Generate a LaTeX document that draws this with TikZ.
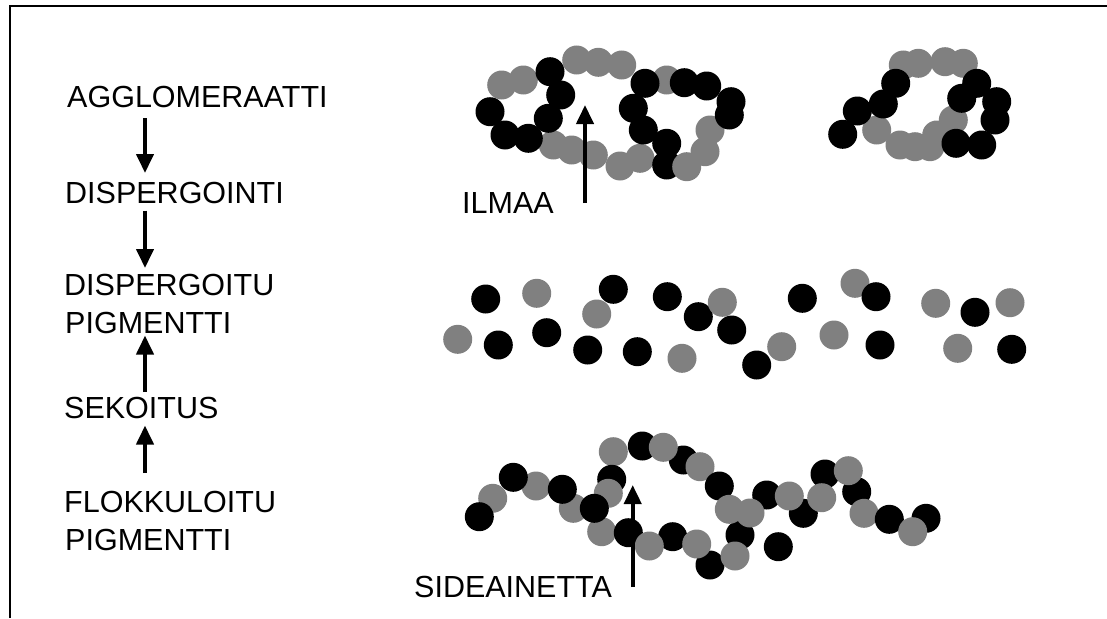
\documentclass[tikz,border=0pt]{standalone}
\usepackage{fontspec}
\setmainfont{Liberation Sans}
\usetikzlibrary{arrows.meta}
\definecolor{pgray}{RGB}{128,128,128}
% one pigment particle: black or grey
\newcommand\dotk[2]{\fill[black] (#1,#2) circle[radius=14.5pt];}
\newcommand\dotg[2]{\fill[pgray] (#1,#2) circle[radius=14.5pt];}
\begin{document}
\begin{tikzpicture}[x=1pt,y=-1pt,
  lbl/.style={anchor=base west, inner sep=0pt, font=\fontsize{30.5}{36}\selectfont},
  flow/.style={line width=4pt, -{Triangle[width=17pt,length=19pt]}}]
\useasboundingbox (0,0) rectangle (1107,618);

% frame
\draw[line width=2.5pt] (10,618) -- (10,6) -- (1107,6);

% process steps
\node[lbl] (agg)  at (67,107) {AGGLOMERAATTI};
\node[lbl] (disp) at (65,203) {DISPERGOINTI};
\node[lbl] (dpa)  at (64,295) {DISPERGOITU};
\node[lbl] (dpb)  at (65,333) {PIGMENTTI};
\node[lbl] (sek)  at (64,418) {SEKOITUS};
\node[lbl] (fla)  at (64,512) {FLOKKULOITU};
\node[lbl] (flb)  at (65,550) {PIGMENTTI};
\coordinate (col) at (145,0);

\draw[flow, shorten <=11pt, shorten >=8.5pt] (agg.south -| col) -- (disp.north -| col);
\draw[flow, shorten <=7pt, shorten >=5.5pt] (disp.south -| col) -- (dpa.north -| col);
\draw[flow, shorten <=4.5pt, shorten >=2pt] (sek.north -| col) -- (dpb.south -| col);
\draw[flow, shorten <=17.5pt, shorten >=7pt] (fla.north -| col) -- (sek.south -| col);

% agglomerate, left
\dotg{501.7}{85} \dotg{523.3}{80} \dotg{576.7}{60} \dotg{598.3}{62.3} \dotg{621.7}{65}
\dotg{666.7}{80}
\dotg{553.3}{145} \dotg{571.7}{150} \dotg{593.3}{155} \dotg{620}{166} \dotg{640}{158.3}
\dotg{705}{151.7} \dotg{710}{130}
\dotk{550}{71.7} \dotk{560.7}{95} \dotk{548.3}{118.3} \dotk{490}{111.7} \dotk{505}{135} \dotk{528.3}{138.3}
\dotk{645}{83.3} \dotk{633.3}{108.3} \dotk{643.3}{130} \dotk{666.7}{143.3} \dotk{666.7}{165}
\dotk{684.3}{82.7} \dotk{706.7}{86} \dotk{731}{101.7} \dotk{729.3}{115}
\dotg{686.7}{166.7}

% agglomerate, right
\dotg{903.3}{65} \dotg{918.3}{63.3} \dotg{945}{61.7} \dotg{963.3}{63.3}
\dotg{876.7}{130} \dotg{900}{145} \dotg{915}{146.7} \dotg{930}{146.7} \dotg{936.7}{135} \dotg{953.3}{120}
\dotk{842.7}{134.3} \dotk{857.3}{111} \dotk{883.3}{104} \dotk{895.7}{83.3}
\dotk{961.7}{98.3} \dotk{976.7}{83.3} \dotk{996.7}{101.7} \dotk{995}{120}
\dotk{956}{143.3} \dotk{981.7}{145}

% dispersed pigment
\dotk{485.7}{299} \dotg{536.7}{293.3} \dotg{596.7}{314} \dotk{613.3}{289.3} \dotk{667.3}{296.7}
\dotk{698.3}{316.7} \dotg{722.3}{302.3} \dotk{731.7}{330}
\dotg{457.7}{339.3} \dotk{498.3}{345} \dotk{546.7}{332.7} \dotk{587.7}{350} \dotk{637.3}{351.7}
\dotg{682}{358.3} \dotg{781.7}{346.7} \dotk{756.7}{365}
\dotk{802.3}{298.3} \dotg{834}{335} \dotg{855}{283.3} \dotk{876}{296.7} \dotk{880}{345}
\dotg{935.7}{303.3} \dotk{975}{312.3} \dotg{1010}{302.7} \dotg{957.7}{348.3} \dotk{1011.7}{349.3}

% flocculated pigment
\dotg{492.7}{498.3} \dotk{479.3}{516.7}
\dotg{536}{486} \dotk{513.3}{477.3}
\dotg{573.3}{508.3} \dotk{562.3}{489.3}
\dotg{613.3}{451.7} \dotk{611.7}{479.3} \dotg{608.3}{493.3}
\dotg{601.7}{531.7} \dotk{594.3}{508.3} \dotk{628.3}{532.7}
\dotk{642.3}{446} \dotk{683.3}{460} \dotg{663.3}{447.3} \dotg{700}{466.7}
\dotk{719.3}{486} \dotk{672.7}{536.7} \dotg{649.3}{546}
\dotk{710}{565} \dotg{696.7}{544}
\dotk{740}{535} \dotg{729.3}{509.3} \dotg{735}{556}
\dotk{766.7}{495} \dotg{750}{513}
\dotk{803.3}{513.3} \dotg{789.3}{496}
\dotk{825}{474} \dotg{821.7}{497.7}
\dotk{856.7}{491.7} \dotg{848.3}{470.7} \dotg{864}{513.3}
\dotk{889.3}{519.3} \dotk{926}{518.3} \dotg{912.7}{531.7}
\dotk{778.3}{546.7}

% air and binder labels
\node[lbl] (air) at (462,213) {ILMAA};
\coordinate (airtail) at (585,203);
\coordinate (airtip) at (585,105);
\draw[flow] (airtail) -- (airtip);

\node[lbl] (bind) at (414,597) {SIDEAINETTA};
\coordinate (bindtail) at (632.7,587);
\coordinate (bindtip) at (632.7,485);
\draw[flow] (bindtail) -- (bindtip);
\end{tikzpicture}
\end{document}
